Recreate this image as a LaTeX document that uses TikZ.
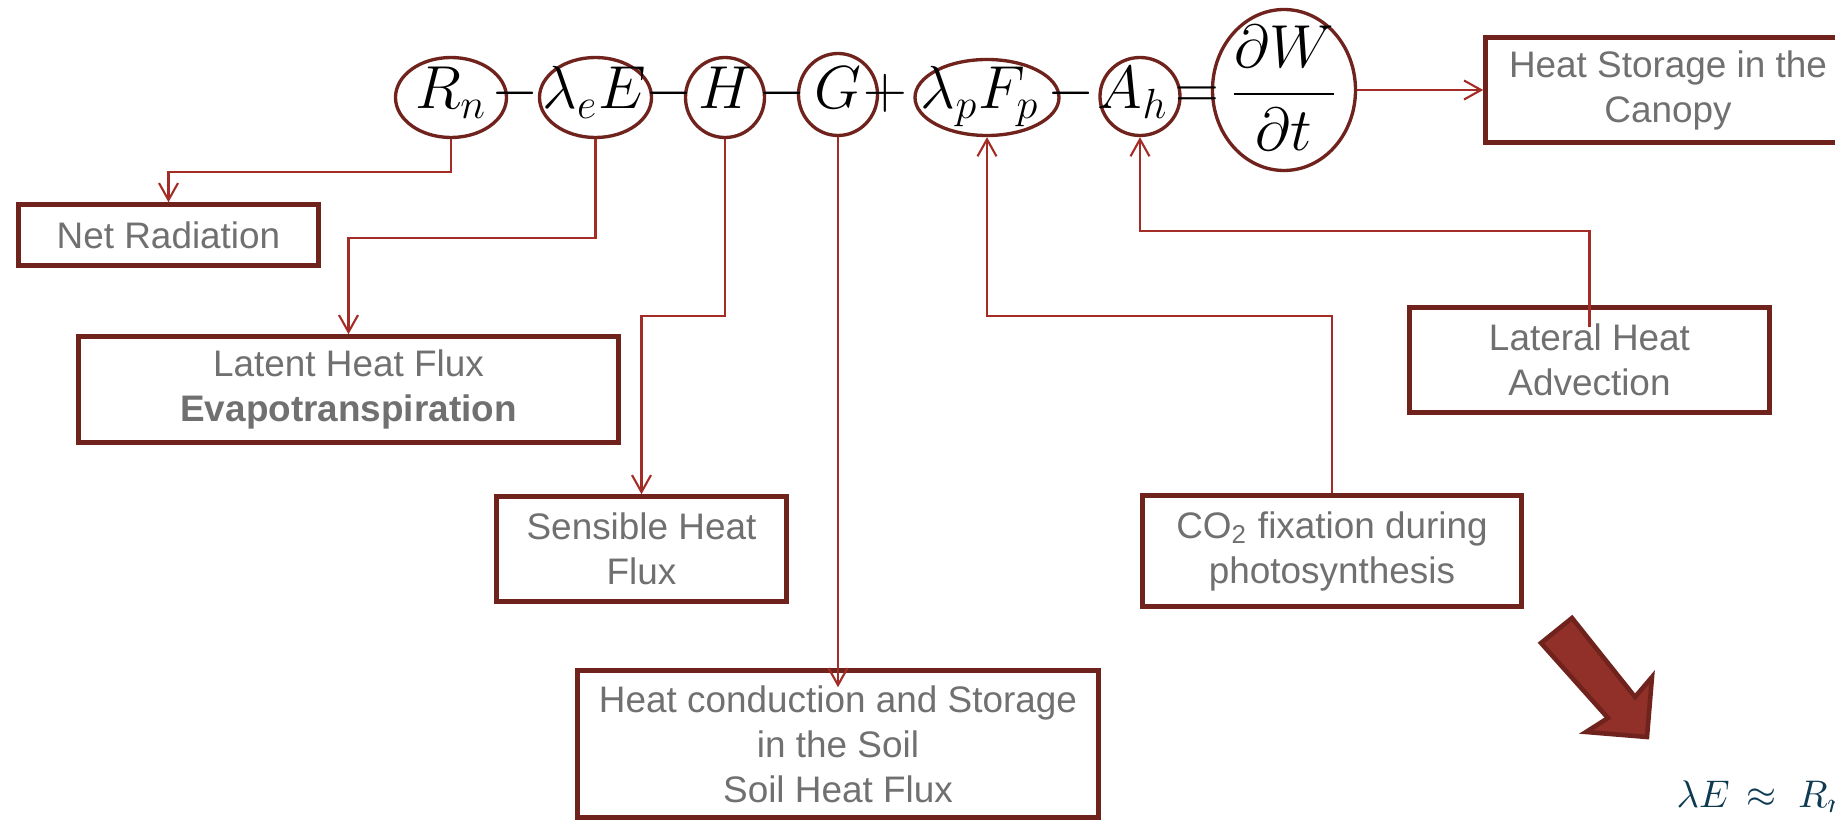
\documentclass[tikz,border=0pt]{standalone}
\usepackage{amsmath}
\usepackage{fontspec}
\newfontfamily\boxfont{Liberation Sans}
\usepackage{xcolor}
\usepackage{tikz}
\usetikzlibrary{shapes.geometric,arrows.meta}

\definecolor{boxred}{RGB}{112,35,29}
\definecolor{linkred}{RGB}{163,45,38}
\definecolor{txtgray}{RGB}{112,112,112}
\definecolor{blockred}{RGB}{144,48,40}
\definecolor{mathblue}{RGB}{14,58,82}

\tikzset{
	fluxbox/.style={draw=boxred, line width=1.3pt, inner sep=0pt, align=center, text=txtgray, font=\boxfont\fontsize{10.5}{12.8}\selectfont},
	term/.style={ellipse, draw=boxred, line width=0.95pt, inner sep=0pt},
	sym/.style={inner sep=0pt, anchor=base, font=\fontsize{17}{20}\selectfont},
	link/.style={draw=linkred, line width=0.6pt, -{Straight Barb[length=1.7mm,width=1.9mm]}},
	blockarrow/.style={fill=blockred, draw=boxred, line width=1.3pt, line join=miter}
}

\begin{document}
\begin{tikzpicture}
		\useasboundingbox (0,0) rectangle (18.35,-8.23);
		\foreach \n/\x/\y/\w/\h in {Rn/4.51/-0.975/1.11/0.80, lE/5.955/-0.975/1.12/0.80, H/7.25/-0.975/0.79/0.80, G/8.38/-0.945/0.79/0.82, lF/9.87/-0.975/1.44/0.76, Ah/11.40/-0.965/0.80/0.78, dWdt/12.84/-0.90/1.43/1.61}
		{
		\node[term, minimum width=\w cm, minimum height=\h cm] (\n) at (\x,\y) {};
		}
		\node[sym] (RnTxt) at (4.51,-1.09) {$R_n$};
		\node[sym] (lETxt) at (5.94,-1.09) {$\lambda_e E$};
		\node[sym] (HTxt) at (7.25,-1.09) {$H$};
		\node[sym] (GTxt) at (8.38,-1.09) {$G$};
		\node[sym] (lFTxt) at (9.80,-1.09) {$\lambda_p F_p$};
		\node[sym] (AhTxt) at (11.33,-1.09) {$A_h$};
		\node[sym] (dWdtTxt) at (12.84,-1.09) {$\dfrac{\partial W}{\partial t}$};
		\foreach \x/\n/\op in {5.15/1/-, 6.69/2/-, 7.82/3/-, 8.85/4/+, 10.71/5/-, 11.97/6/=}
		{
		\node[sym] (op\n) at (\x,-1.09) {$\op$};
		}

		\node[fluxbox, minimum width=3.65cm, minimum height=1.05cm] (storage) at (16.68,-0.90) {Heat Storage in the\\Canopy};
		\node[fluxbox, minimum width=3.00cm, minimum height=0.61cm] (net) at (1.685,-2.35) {Net Radiation};
		\node[fluxbox, minimum width=5.40cm, minimum height=1.06cm] (latent) at (3.485,-3.895) {Latent Heat Flux\\\textbf{Evapotranspiration}};
		\node[fluxbox, minimum width=2.90cm, minimum height=1.05cm] (sensible) at (6.415,-5.49) {Sensible Heat\\Flux};
		\node[fluxbox, minimum width=5.21cm, minimum height=1.47cm] (soil) at (8.38,-7.44) {Heat conduction and Storage\\in the Soil\\Soil Heat Flux};
		\node[fluxbox, minimum width=3.79cm, minimum height=1.11cm] (co2) at (13.32,-5.51) {CO\textsubscript{2} fixation during\\photosynthesis};
		\node[fluxbox, minimum width=3.60cm, minimum height=1.05cm] (lateral) at (15.895,-3.60) {Lateral Heat\\Advection};

		\draw[link] (Rn.south) -- ++(0,-0.325) -| (net.north);
		\draw[link] (lE.south) -- ++(0,-0.985) -| (latent.north);
		\draw[link] (H.south) -- ++(0,-1.765) -| (sensible.north);
		\draw[link] (G.south) -- ([yshift=-0.19cm]soil.north);
		\draw[link] (co2.north) -- ++(0,1.775) -| (lF.south);
		\draw[link] ([yshift=-0.22cm]lateral.north) -- ++(0,0.965) -| (Ah.south);
		\draw[link] (dWdt.east) -- (storage.west);

		\draw[blockarrow] (15.41,-6.43) -- (15.72,-6.18) -- (16.35,-6.97) -- (16.52,-6.77) -- (16.47,-7.37) -- (15.86,-7.32) -- (16.08,-7.18) -- cycle;
		\node[text=mathblue, anchor=base west, inner sep=0pt, font=\fontsize{11}{13}\selectfont] (approx) at (16.76,-8.07) {$\lambda E\mathrel{\,\approx\;}R_n$};
	\end{tikzpicture}
\end{document}
